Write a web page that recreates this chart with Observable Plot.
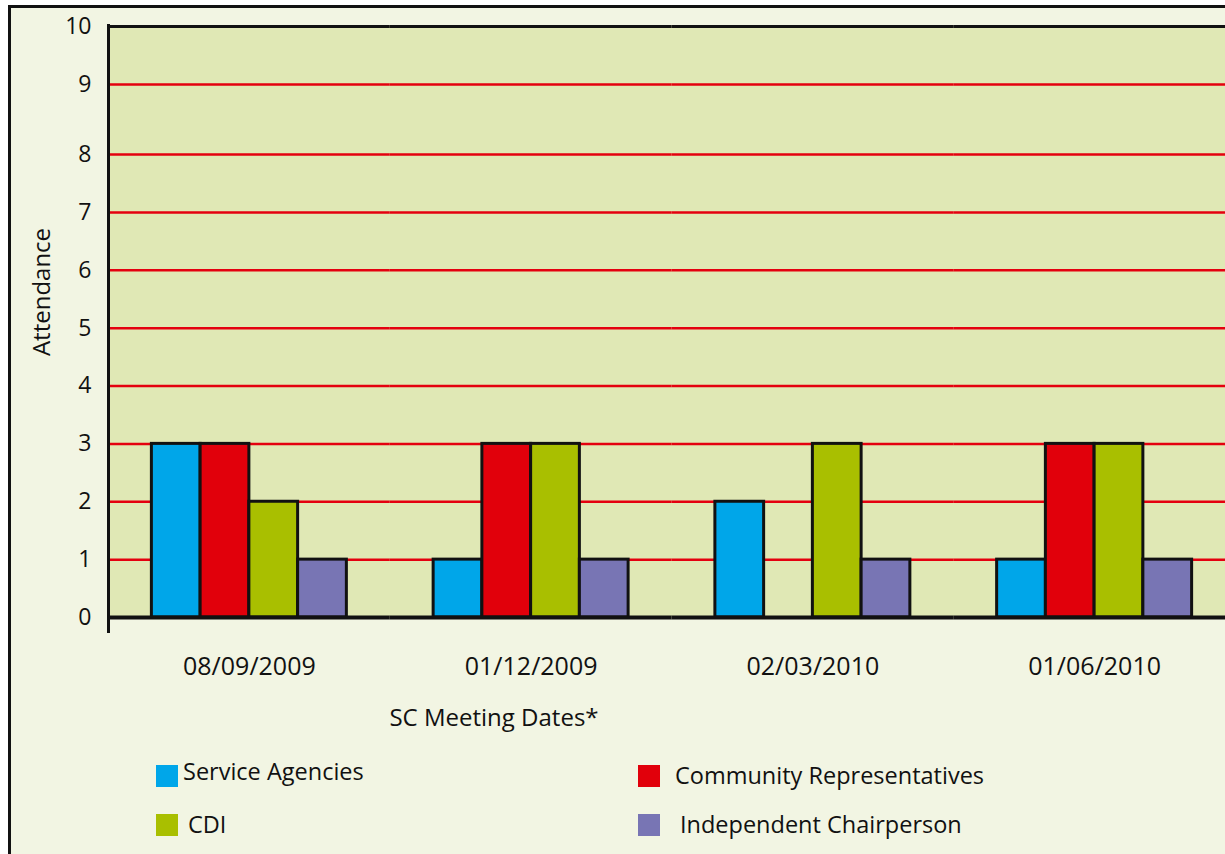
<!DOCTYPE html>
<html>
<head>
<meta charset="utf-8">
<script src="https://cdn.jsdelivr.net/npm/d3@7"></script>
<script src="https://cdn.jsdelivr.net/npm/@observablehq/plot@0.6"></script>
<style>
  html, body { margin: 0; padding: 0; background: #ffffff; overflow: hidden; width: 1225px; height: 854px; }
  body { position: relative; font-family: "Open Sans", "Noto Sans", sans-serif; color: #111; }
  #outer { position: absolute; left: 8px; top: 5px; width: 1240px; height: 900px; border-left: 3px solid #111; border-top: 3px solid #111; background: #f2f5e3; }
  #chart { position: absolute; left: 0; top: 0; }
  #leftline { position: absolute; left: 107px; top: 24px; width: 3px; height: 609px; background: #111; }
  .lbl { position: absolute; font-size: 24px; white-space: nowrap; line-height: 1; }
  #ylabel { left: 41px; top: 292px; transform: translate(-50%, -50%) rotate(-90deg); }
  #xlabel { left: 494px; top: 717px; transform: translate(-50%, -50%); }
  .sw { position: absolute; width: 22px; height: 22px; }
  .lg { position: absolute; font-size: 23.5px; white-space: nowrap; line-height: 1; transform: translateY(-50%); }
</style>
</head>
<body>
<div id="outer"></div>
<div id="chart"></div>
<div id="leftline"></div>
<div id="ylabel" class="lbl">Attendance</div>
<div id="xlabel" class="lbl">SC Meeting Dates*</div>
<div id="legend"></div>
<script>
// ---- data ----
const dates = ["08/09/2009", "01/12/2009", "02/03/2010", "01/06/2010"];
const seriesNames = ["Service Agencies", "Community Representatives", "CDI", "Independent Chairperson"];
const serviceAgencies = [3, 1, 2, 1];
const communityRepresentatives = [3, 3, 0, 3];
const cdi = [2, 3, 3, 3];
const independentChairperson = [1, 1, 1, 1];
const seriesColors = ["#00a6e9", "#e1000b", "#a9bf00", "#7875b4"];
const yTicks = [0, 1, 2, 3, 4, 5, 6, 7, 8, 9, 10];
const gridValues = [1, 2, 3, 4, 5, 6, 7, 8, 9];

const seriesValues = [serviceAgencies, communityRepresentatives, cdi, independentChairperson];
const table = [];
dates.forEach((d, i) => {
  seriesNames.forEach((s, j) => {
    table.push({date: d, series: s, value: seriesValues[j][i]});
  });
});

const W = 1240;
const bg = "#e0e8b5";
const plot = Plot.plot({
  width: W,
  height: 700,
  marginLeft: 108,
  marginRight: W - 1235,
  marginTop: 26,
  marginBottom: 83,
  style: {background: "transparent", maxWidth: "none", overflow: "visible", fontFamily: "'Open Sans', 'Noto Sans', sans-serif", color: "#111"},
  fx: {domain: dates, padding: 0, round: false, label: null},
  x: {domain: seriesNames, paddingInner: 0, paddingOuter: 0.89, round: false, axis: null},
  y: {type: "linear", domain: [0, 8, 9, 10], range: [617, 154, 84, 26], axis: null},
  color: {domain: seriesNames, range: seriesColors},
  marks: [
    Plot.frame({fill: bg, stroke: bg, strokeWidth: 1.5}),
    Plot.ruleY(gridValues, {stroke: "#e4000f", strokeWidth: 2.5}),
    Plot.ruleY([10], {stroke: "#111", strokeWidth: 3}),
    Plot.barY(table, {fx: "date", x: "series", y: "value", fill: "series", stroke: "#111", strokeWidth: 3}),
    Plot.ruleY([0], {stroke: "#111", strokeWidth: 4}),
    Plot.axisY(yTicks, {anchor: "left", tickSize: 0, tickPadding: 17, tickFormat: "d", fontSize: 23, label: null}),
    Plot.axisFx({anchor: "bottom", tickSize: 0, tickPadding: 40, fontSize: 25, label: null})
  ]
});
document.getElementById("chart").appendChild(plot);

// ---- legend ----
const legendPos = [
  {sx: 156, sy: 765, tx: 183, ty: 772},
  {sx: 638, sy: 765, tx: 675, ty: 776},
  {sx: 156, sy: 814, tx: 188, ty: 825},
  {sx: 638, sy: 814, tx: 680, ty: 825}
];
const legend = document.getElementById("legend");
seriesNames.forEach((s, j) => {
  const p = legendPos[j];
  const sw = document.createElement("div");
  sw.className = "sw";
  sw.style.left = p.sx + "px";
  sw.style.top = p.sy + "px";
  sw.style.background = seriesColors[j];
  legend.appendChild(sw);
  const t = document.createElement("div");
  t.className = "lg";
  t.style.left = p.tx + "px";
  t.style.top = p.ty + "px";
  t.textContent = s;
  legend.appendChild(t);
});
</script>
</body>
</html>
